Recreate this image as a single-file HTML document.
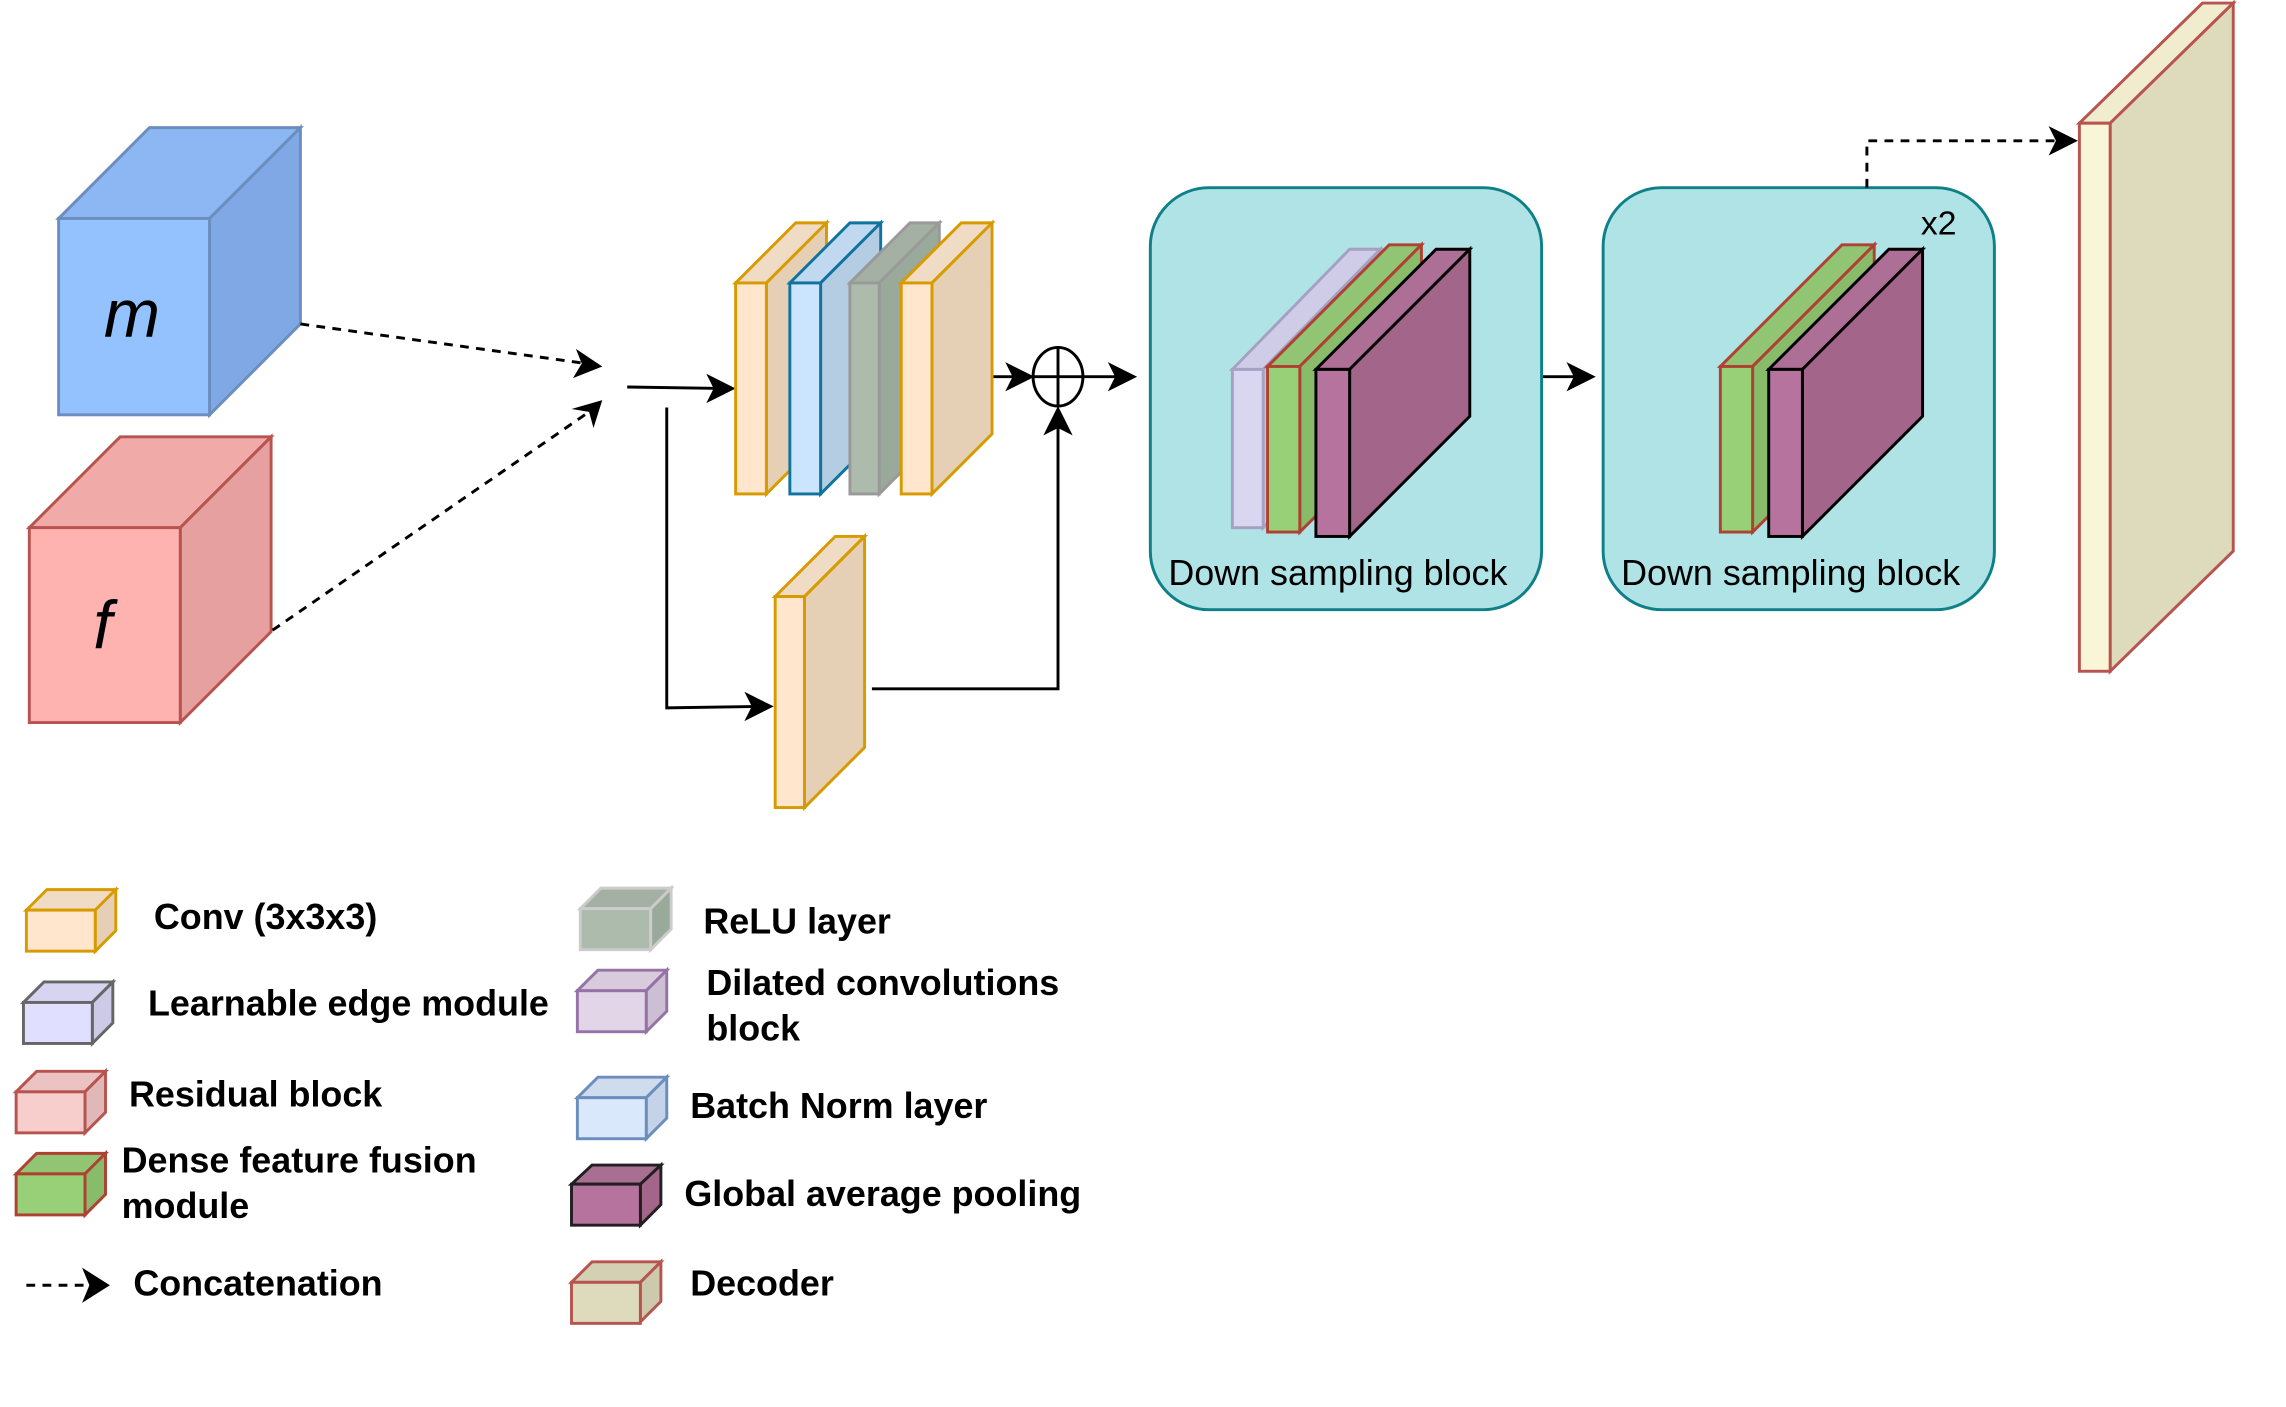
<!DOCTYPE html>
<html><head><meta charset="utf-8"><style>
html,body{margin:0;padding:0;background:#fff;}
svg{display:block;}
text{font-family:"Liberation Sans",sans-serif;}
.lg{font-weight:bold;font-size:24.5px;fill:#000;}
</style></head><body>
<svg width="2286" height="1407" viewBox="0 0 1560 960" xmlns="http://www.w3.org/2000/svg">
<rect width="1560" height="960" fill="#fff"/>

<!-- m cube -->
<g stroke="#6c8ebf" stroke-width="2">
<polygon points="40,149 102,87 205,87 143,149" fill="#8db7f2"/>
<polygon points="143,149 205,87 205,221 143,283" fill="#7fa8e4"/>
<rect x="40" y="149" width="103" height="134" fill="#94c2ff"/>
</g>
<text x="90" y="230" font-family="Liberation Serif,serif" font-style="italic" font-size="46" text-anchor="middle">m</text>
<!-- f cube -->
<g stroke="#b85450" stroke-width="2">
<polygon points="20,360 82,298 185,298 123,360" fill="#f0aaa8"/>
<polygon points="123,360 185,298 185,431 123,493" fill="#e5a09f"/>
<rect x="20" y="360" width="103" height="133" fill="#ffb3b0"/>
</g>
<text x="70" y="442" font-family="Liberation Serif,serif" font-style="italic" font-size="46" text-anchor="middle">f</text>

<!-- dashed concat -->
<g stroke="#000" stroke-width="2" fill="none" stroke-dasharray="6,5">
<line x1="205" y1="221" x2="400" y2="248"/>
<line x1="186" y1="430" x2="402" y2="281"/>
</g>
<polygon points="411,250 391,258 397,248 393,238" fill="#000"/>
<polygon points="411,273 405,292 402,281 390,279" fill="#000"/>

<!-- solid arrows -->
<g stroke="#000" stroke-width="2" fill="none">
<line x1="428" y1="264" x2="492" y2="265"/>
<polyline points="455,278 455,483 518,482"/>
<polyline points="595,470 722,470 722,292"/>
<line x1="677" y1="257" x2="697" y2="257"/>
<line x1="739" y1="257" x2="766" y2="257"/>
<line x1="1052" y1="257" x2="1080" y2="257"/>
</g>
<polygon points="502,265 482,275 487,265 482,255" fill="#000"/>
<polygon points="528,482 508,492 513,482 508,472" fill="#000"/>
<polygon points="722,277 712,297 722,292 732,297" fill="#000"/>
<polygon points="706,257 686,267 691,257 686,247" fill="#000"/>
<polygon points="776,257 756,267 761,257 756,247" fill="#000"/>
<polygon points="1089,257 1069,267 1074,257 1069,247" fill="#000"/>
<ellipse cx="722" cy="257" rx="17" ry="20" fill="none" stroke="#000" stroke-width="2"/>
<line x1="705" y1="257" x2="739" y2="257" stroke="#000" stroke-width="2"/>
<line x1="722" y1="237" x2="722" y2="277" stroke="#000" stroke-width="2"/>

<!-- layer stack -->
<g stroke-width="2">
<g stroke="#d79b00"><polygon points="502,193 543,152 564,152 523,193" fill="#f0dcc4"/><polygon points="523,193 564,152 564,296 523,337" fill="#e6d0b5"/><rect x="502" y="193" width="21" height="144" fill="#ffe6cc"/></g>
<g stroke="#10739e"><polygon points="539,193 580,152 601,152 560,193" fill="#c0d9f0"/><polygon points="560,193 601,152 601,296 560,337" fill="#b5cde3"/><rect x="539" y="193" width="21" height="144" fill="#cce5ff"/></g>
<g stroke="#999"><polygon points="580,193 621,152 641,152 600,193" fill="#a3b0a3"/><polygon points="600,193 641,152 641,296 600,337" fill="#9aaa9a"/><rect x="580" y="193" width="20" height="144" fill="#adbbad"/></g>
<g stroke="#d79b00"><polygon points="615,193 656,152 677,152 636,193" fill="#f0dcc4"/><polygon points="636,193 677,152 677,296 636,337" fill="#e6d0b5"/><rect x="615" y="193" width="21" height="144" fill="#ffe6cc"/></g>
<g stroke="#d79b00"><polygon points="529,407 570,366 590,366 549,407" fill="#f0dcc4"/><polygon points="549,407 590,366 590,510 549,551" fill="#e6d0b5"/><rect x="529" y="407" width="20" height="144" fill="#ffe6cc"/></g>
</g>

<!-- DS block 1 -->
<rect x="785" y="128" width="267" height="288" rx="40" fill="#b0e3e6" stroke="#0e8088" stroke-width="2"/>
<g stroke-width="2">
<g stroke="#a6a1c2"><polygon points="841,252 921,170 942,170 862,252" fill="#cfcce8"/><polygon points="862,252 942,170 942,278 862,360" fill="#c8c4e0"/><rect x="841" y="252" width="21" height="108" fill="#d9d6f2"/></g>
<g stroke="#ae4132"><polygon points="865,250 948,167 970,167 887,250" fill="#91c473"/><polygon points="887,250 970,167 970,280 887,363" fill="#88bb6a"/><rect x="865" y="250" width="22" height="113" fill="#97d077"/></g>
<g stroke="#000"><polygon points="898,252 980,170 1003,170 921,252" fill="#ad6f95"/><polygon points="921,252 1003,170 1003,284 921,366" fill="#a3668a"/><rect x="898" y="252" width="23" height="114" fill="#b5739d"/></g>
</g>
<text x="913" y="399" font-size="24.5" text-anchor="middle">Down sampling block</text>

<!-- DS block 2 -->
<rect x="1094" y="128" width="267" height="288" rx="40" fill="#b0e3e6" stroke="#0e8088" stroke-width="2"/>
<g stroke-width="2">
<g stroke="#ae4132"><polygon points="1174,250 1257,167 1279,167 1196,250" fill="#91c473"/><polygon points="1196,250 1279,167 1279,280 1196,363" fill="#88bb6a"/><rect x="1174" y="250" width="22" height="113" fill="#97d077"/></g>
<g stroke="#000"><polygon points="1207,252 1289,170 1312,170 1230,252" fill="#ad6f95"/><polygon points="1230,252 1312,170 1312,284 1230,366" fill="#a3668a"/><rect x="1207" y="252" width="23" height="114" fill="#b5739d"/></g>
</g>
<text x="1222" y="399" font-size="24.5" text-anchor="middle">Down sampling block</text>
<text x="1323" y="160" font-size="23" text-anchor="middle">x2</text>

<!-- dashed to decoder -->
<polyline points="1274,128 1274,96 1408,96" fill="none" stroke="#000" stroke-width="2" stroke-dasharray="6,5"/>
<polygon points="1418,96 1398,106 1403,96 1398,86" fill="#000"/>

<!-- decoder -->
<g stroke="#b85450" stroke-width="2">
<polygon points="1419,84 1503,2 1524,2 1440,84" fill="#f1ecce"/>
<polygon points="1440,84 1524,2 1524,376 1440,458" fill="#dedbbd"/>
<rect x="1419" y="84" width="21" height="374" fill="#f9f5d7"/>
</g>

<!-- legend -->
<g stroke-width="2">
<g stroke="#d79b00"><polygon points="18,621 32,607 79,607 65,621" fill="#f0dcc4"/><polygon points="65,621 79,607 79,635 65,649" fill="#e6d0b5"/><rect x="18" y="621" width="47" height="28" fill="#ffe6cc"/></g>
<g stroke="#666"><polygon points="16,684 30,670 77,670 63,684" fill="#d6d4f0"/><polygon points="63,684 77,670 77,698 63,712" fill="#cccae6"/><rect x="16" y="684" width="47" height="28" fill="#e1dfff"/></g>
<g stroke="#b85450"><polygon points="11,745 25,731 72,731 58,745" fill="#ecc3c3"/><polygon points="58,745 72,731 72,759 58,773" fill="#e0b8b8"/><rect x="11" y="745" width="47" height="28" fill="#f8cecc"/></g>
<g stroke="#ae4132"><polygon points="11,801 25,787 72,787 58,801" fill="#91c473"/><polygon points="58,801 72,787 72,815 58,829" fill="#88bb6a"/><rect x="11" y="801" width="47" height="28" fill="#97d077"/></g>
<g stroke="#ccc"><polygon points="396,620 410,606 458,606 444,620" fill="#a3b0a3"/><polygon points="444,620 458,606 458,634 444,648" fill="#9aaa9a"/><rect x="396" y="620" width="48" height="28" fill="#adbbad"/></g>
<g stroke="#9673a6"><polygon points="394,676 408,662 455,662 441,676" fill="#d8cbdc"/><polygon points="441,676 455,662 455,690 441,704" fill="#cdbfd3"/><rect x="394" y="676" width="47" height="28" fill="#e1d5e7"/></g>
<g stroke="#6c8ebf"><polygon points="394,749 408,735 455,735 441,749" fill="#cfdcee"/><polygon points="441,749 455,735 455,763 441,777" fill="#c5d3e8"/><rect x="394" y="749" width="47" height="28" fill="#dae8fc"/></g>
<g stroke="#231f20"><polygon points="390,808 404,795 451,795 437,808" fill="#a86f93"/><polygon points="437,808 451,795 451,822 437,836" fill="#a3668a"/><rect x="390" y="808" width="47" height="28" fill="#b5739d"/></g>
<g stroke="#b85450"><polygon points="390,875 404,861 451,861 437,875" fill="#d3d0b3"/><polygon points="437,875 451,861 451,888 437,902" fill="#ccc9ac"/><rect x="390" y="875" width="47" height="28" fill="#dedbbd"/></g>
</g>
<line x1="18" y1="877" x2="62" y2="877" stroke="#000" stroke-width="2" stroke-dasharray="6,5"/>
<polygon points="75,877 56,889 61,877 56,865" fill="#000"/>

<text class="lg" x="105" y="634">Conv (3x3x3)</text>
<text class="lg" x="101" y="693">Learnable edge module</text>
<text class="lg" x="88" y="755">Residual block</text>
<text class="lg" x="83" y="800">Dense feature fusion</text>
<text class="lg" x="83" y="831">module</text>
<text class="lg" x="91" y="884">Concatenation</text>
<text class="lg" x="480" y="637">ReLU layer</text>
<text class="lg" x="482" y="679">Dilated convolutions</text>
<text class="lg" x="482" y="710">block</text>
<text class="lg" x="471" y="763">Batch Norm layer</text>
<text class="lg" x="467" y="823">Global average pooling</text>
<text class="lg" x="471" y="884">Decoder</text>
</svg>
</body></html>
